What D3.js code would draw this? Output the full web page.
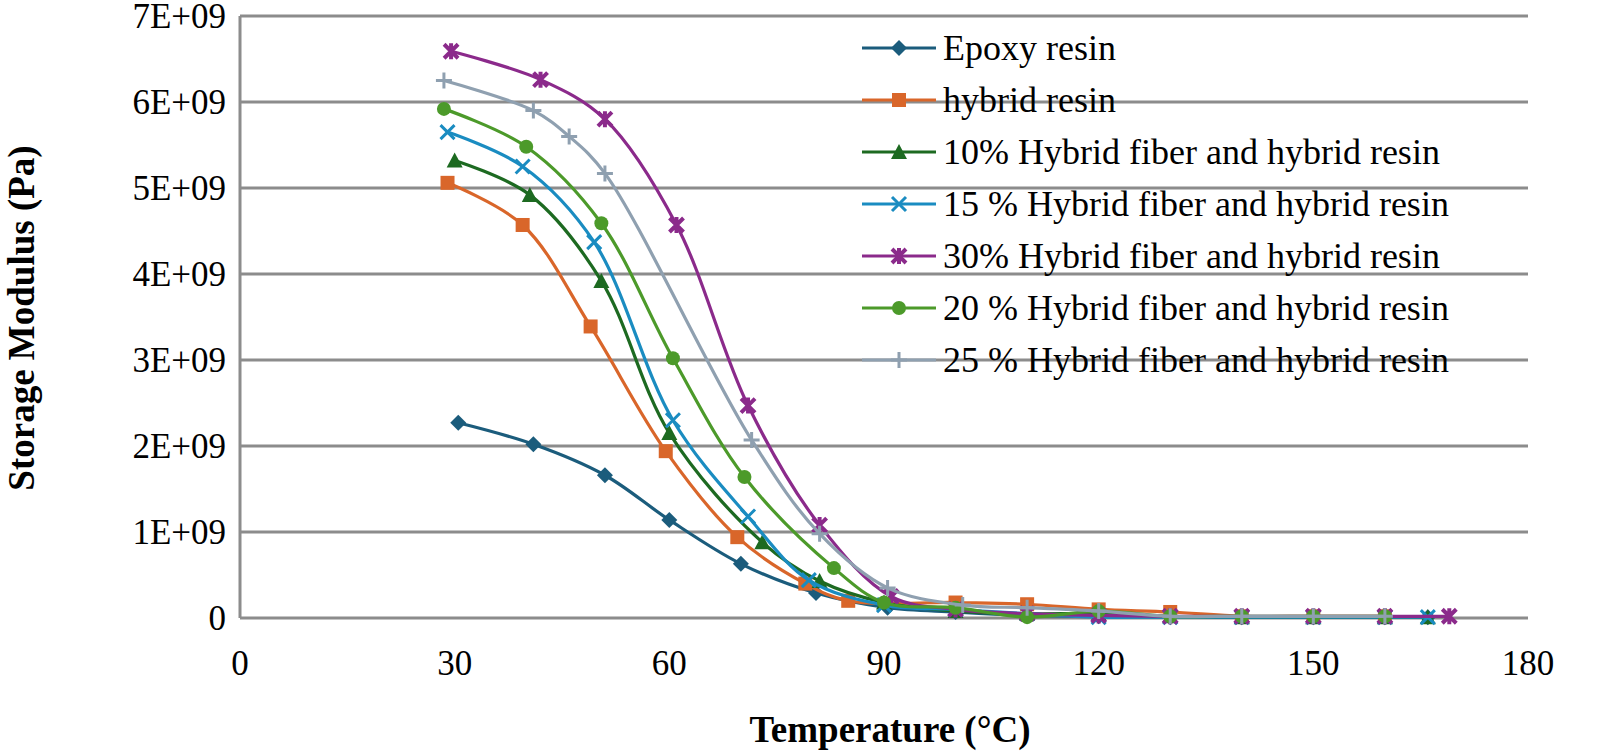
<!DOCTYPE html><html><head><meta charset="utf-8">
<script src="https://cdn.jsdelivr.net/npm/d3@7"></script>
<style>body{margin:0;background:#fff}</style></head><body>
<svg id="c" width="1600" height="755"></svg>
<script>
const seriesNames=["Epoxy resin","hybrid resin","10% Hybrid fiber and hybrid resin","15 % Hybrid fiber and hybrid resin","30% Hybrid fiber and hybrid resin","20 % Hybrid fiber and hybrid resin","25 % Hybrid fiber and hybrid resin"];
const colors=["#1b5c7c","#d9662a","#1d6a21","#1a8cc1","#8b2a8b","#4c9a2a","#8fa0b0"];
const markers=["diamond","square","triangle","x","star","circle","plus"];
const epoxy=[[30.5,2.27],[41,2.02],[51,1.66],[60,1.14],[70,0.63],[80.5,0.29],[90.5,0.12],[100,0.07],[110,0.03],[120,0.02],[130,0.01],[140,0.01],[150,0.01],[160,0.01],[166,0.01]];
const hybrid=[[29,5.06],[39.5,4.57],[49,3.39],[59.5,1.94],[69.5,0.94],[79,0.40],[85,0.20],[100,0.18],[110,0.16],[120,0.10],[130,0.07],[140,0.02],[150,0.02],[160,0.02]];
const h10=[[30,5.32],[40.5,4.92],[50.5,3.92],[60,2.15],[73,0.88],[81,0.43],[90,0.18],[100,0.08],[110,0.05],[120,0.05],[130,0.02],[140,0.01],[150,0.01],[160,0.01],[166,0.01]];
const h15=[[29,5.65],[39.5,5.25],[49.5,4.37],[60.5,2.30],[71,1.18],[79.5,0.44],[90,0.15],[100,0.10],[110,0.05],[120,0.01],[130,0.01],[140,0.01],[150,0.01],[160,0.01],[166,0.01]];
const h30=[[29.5,6.59],[42,6.26],[51,5.80],[61,4.57],[71,2.47],[81,1.08],[91,0.25],[100,0.10],[110,0.05],[120,0.03],[130,0.02],[140,0.02],[150,0.02],[160,0.02],[169,0.02]];
const h20=[[28.5,5.92],[40,5.48],[50.5,4.59],[60.5,3.02],[70.5,1.64],[83,0.58],[90,0.18],[100,0.12],[110,0.01],[120,0.08],[130,0.02],[140,0.02],[150,0.02],[160,0.02]];
const h25=[[28.5,6.25],[41,5.90],[46,5.60],[51,5.17],[71.5,2.07],[81,0.98],[90.5,0.35],[101,0.15],[110,0.12],[120,0.08],[130,0.02],[140,0.02],[150,0.02],[160,0.02]];
const allSeries=[epoxy,hybrid,h10,h15,h30,h20,h25];
const xTicks=[0,30,60,90,120,150,180];
const yTicks=[0,1,2,3,4,5,6,7];
const yTickLabels=["0","1E+09","2E+09","3E+09","4E+09","5E+09","6E+09","7E+09"];

const svg=d3.select("#c");
const x=d3.scaleLinear().domain([0,180]).range([240,1528]);
const y=d3.scaleLinear().domain([0,7]).range([618,16]);
const font="'Liberation Serif','Times New Roman',serif";
svg.append("g").selectAll("line").data(yTicks.slice(1)).join("line")
 .attr("x1",240).attr("x2",1528).attr("y1",d=>y(d)).attr("y2",d=>y(d)).attr("stroke","#8c8c8c").attr("stroke-width",3);
svg.append("line").attr("x1",240).attr("x2",240).attr("y1",16).attr("y2",618).attr("stroke","#8c8c8c").attr("stroke-width",3);
svg.append("line").attr("x1",240).attr("x2",1528).attr("y1",618).attr("y2",618).attr("stroke","#8c8c8c").attr("stroke-width",3);
svg.append("g").selectAll("text").data(yTicks).join("text").attr("x",226).attr("y",d=>y(d)+12)
 .attr("text-anchor","end").attr("font-family",font).attr("font-size",35).text((d,i)=>yTickLabels[i]);
svg.append("g").selectAll("text").data(xTicks).join("text").attr("x",d=>x(d)).attr("y",675)
 .attr("text-anchor","middle").attr("font-family",font).attr("font-size",35).text(d=>d);
svg.append("text").attr("x",890).attr("y",742).attr("text-anchor","middle").attr("font-family",font).attr("font-size",37).attr("font-weight","bold").text("Temperature (°C)");
svg.append("text").attr("transform","translate(34,318) rotate(-90)").attr("text-anchor","middle").attr("font-family",font).attr("font-size",37).attr("font-weight","bold").text("Storage Modulus (Pa)");

function marker(g,type,c){
 const s=8;
 if(type==="diamond")g.append("path").attr("d",`M0,${-s}L${s},0L0,${s}L${-s},0Z`).attr("fill",c);
 else if(type==="square")g.append("rect").attr("x",-s+1).attr("y",-s+1).attr("width",2*s-2).attr("height",2*s-2).attr("fill",c);
 else if(type==="triangle")g.append("path").attr("d",`M0,${-s}L${s},${s-1}L${-s},${s-1}Z`).attr("fill",c);
 else if(type==="circle")g.append("circle").attr("r",s-1).attr("fill",c);
 else if(type==="x")g.append("path").attr("d",`M${-s+1},${-s+1}L${s-1},${s-1}M${-s+1},${s-1}L${s-1},${-s+1}`).attr("stroke",c).attr("stroke-width",3);
 else if(type==="plus")g.append("path").attr("d",`M${-s},0L${s},0M0,${-s}L0,${s}`).attr("stroke",c).attr("stroke-width",3);
 else if(type==="star")g.append("path").attr("d",`M${-s+1},${-s+1}L${s-1},${s-1}M${-s+1},${s-1}L${s-1},${-s+1}M0,${-s}L0,${s}`).attr("stroke",c).attr("stroke-width",4);
}
const line=d3.line().x(d=>x(d[0])).y(d=>y(d[1])).curve(d3.curveCatmullRom.alpha(0.5));
allSeries.forEach((s,i)=>{
 svg.append("path").attr("d",line(s)).attr("fill","none").attr("stroke",colors[i]).attr("stroke-width",3.2);
 s.forEach(p=>marker(svg.append("g").attr("transform",`translate(${x(p[0])},${y(p[1])})`),markers[i],colors[i]));
});
seriesNames.forEach((n,i)=>{
 const yy=48+i*52;
 svg.append("line").attr("x1",862).attr("x2",936).attr("y1",yy).attr("y2",yy).attr("stroke",colors[i]).attr("stroke-width",3.2);
 marker(svg.append("g").attr("transform",`translate(899,${yy})`),markers[i],colors[i]);
 svg.append("text").attr("x",943).attr("y",yy+12).attr("font-family",font).attr("font-size",36).text(n);
});
</script></body></html>
